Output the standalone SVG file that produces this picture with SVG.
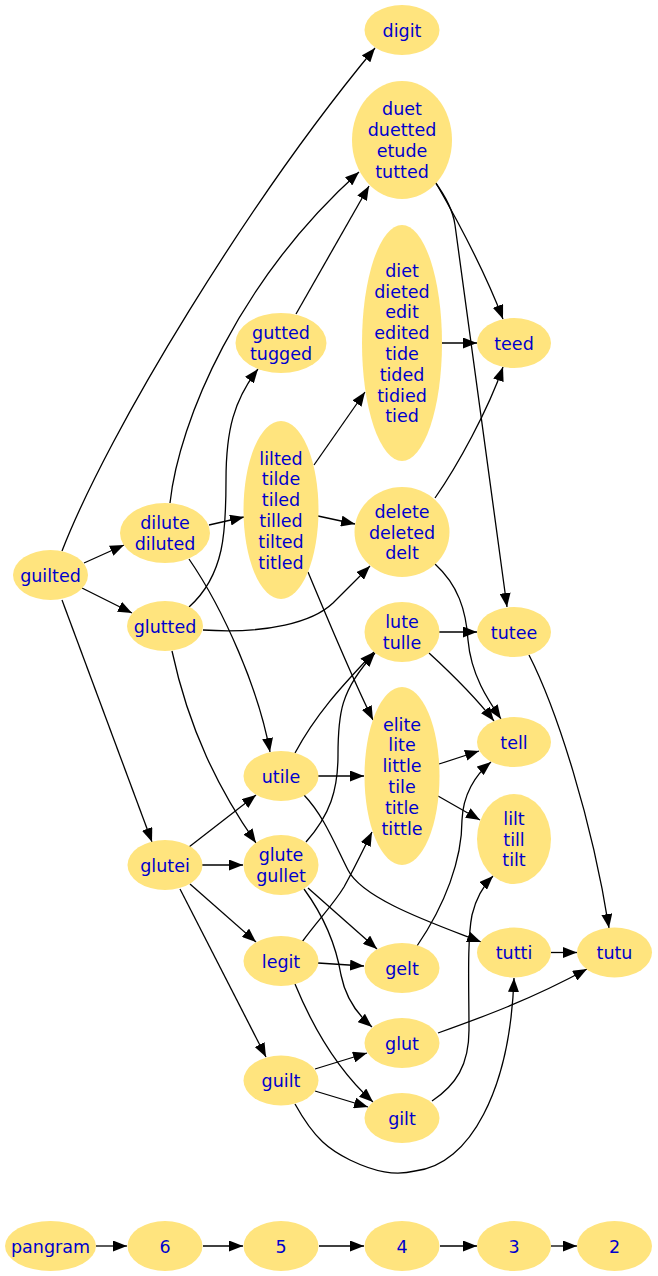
<svg xmlns="http://www.w3.org/2000/svg" width="658" height="1276" viewBox="0 0 658 1276">
<style>
.n ellipse{fill:#ffe47e;stroke:none}
.n text{font-family:"DejaVu Sans",Verdana,sans-serif;font-size:17.5px;fill:#0000cd;text-anchor:middle}
#edges path{fill:none;stroke:#000;stroke-width:1.3;marker-end:url(#ah)}
</style>
<defs>
<marker id="ah" markerUnits="userSpaceOnUse" markerWidth="14" markerHeight="11" refX="14" refY="5.5" orient="auto">
<path d="M0,0 L14,5.5 L0,11 z" fill="#000"/>
</marker>
</defs>
<rect width="658" height="1276" fill="#fff"/>
<g id="edges">
<path d="M62,551 C109,430 249,200 375,48"/>
<path d="M84,563 L124,545"/>
<path d="M82,588 L132,613"/>
<path d="M62,600 L152,842"/>
<path d="M170,503 C179,420 239,280 359,172"/>
<path d="M209,525 L244,517"/>
<path d="M189,559 C224,610 259,690 270,752"/>
<path d="M189,607 C225,575 226,530 226,480 C226,430 234,400 258,369"/>
<path d="M203,630 C268,634 313,622 333,603 C348,588 358,578 370,566"/>
<path d="M172,651 C189,730 219,790 256,843"/>
<path d="M296,314 L369,186"/>
<path d="M436,183 C463,230 488,280 503,319"/>
<path d="M435,182 C446,197 453,210 455,225 L507,607"/>
<path d="M442,343 L477,343"/>
<path d="M314,465 L365,392"/>
<path d="M318,516 L355,524"/>
<path d="M308,572 C328,620 353,680 373,720"/>
<path d="M435,498 C458,465 488,410 503,367"/>
<path d="M435,564 C458,585 466,610 468,640 C471,675 488,700 501,719"/>
<path d="M439,632 L477,632"/>
<path d="M429,653 C453,675 476,698 494,721"/>
<path d="M295,753 C318,710 348,680 374,652"/>
<path d="M306,842 C330,815 338,790 338,755 C338,715 340,690 375,653"/>
<path d="M318,776 L364,776"/>
<path d="M304,795 C323,815 333,840 348,870 C363,900 438,925 481,942"/>
<path d="M439,764 L479,751"/>
<path d="M438,796 L480,820"/>
<path d="M529,655 C557,710 592,820 609,928"/>
<path d="M189,847 L256,795"/>
<path d="M202,865 L243,865"/>
<path d="M190,884 L256,942"/>
<path d="M180,889 L266,1057"/>
<path d="M308,888 L377,949"/>
<path d="M304,889 C323,915 336,945 341,975 C346,1000 358,1015 372,1027"/>
<path d="M302,942 C318,920 333,905 344,887 C356,865 363,850 372,832"/>
<path d="M318,963 L364,966"/>
<path d="M295,984 C316,1035 343,1075 373,1102"/>
<path d="M417,946 C445,905 462,860 462,820 C463,795 475,775 491,762"/>
<path d="M432,1101 C456,1085 469,1065 469,1030 C469,990 467,940 472,915 C476,898 484,885 493,876"/>
<path d="M315,1069 L367,1053"/>
<path d="M315,1091 L368,1107"/>
<path d="M295,1104 C315,1140 330,1150 350,1160 C375,1172 395,1176 415,1171 C470,1165 510,1090 514,978"/>
<path d="M438,1033 C480,1018 530,1000 587,969"/>
<path d="M551,952.5 L577,952.5"/>
<path d="M96,1246 L127,1246"/>
<path d="M203,1246 L243,1246"/>
<path d="M319,1246 L364,1246"/>
<path d="M440,1246 L477,1246"/>
<path d="M551,1246 L577,1246"/>
</g>
<g id="digit" class="n"><ellipse cx="402" cy="30" rx="37.5" ry="25"/><text x="402" y="36.5">digit</text></g>
<g id="duet" class="n"><ellipse cx="402" cy="140" rx="50" ry="59"/><text x="402" y="115.3">duet</text><text x="402" y="136.1">duetted</text><text x="402" y="156.9">etude</text><text x="402" y="177.7">tutted</text></g>
<g id="diet" class="n"><ellipse cx="402" cy="343" rx="40" ry="118"/><text x="402" y="276.7">diet</text><text x="402" y="297.5">dieted</text><text x="402" y="318.3">edit</text><text x="402" y="339.1">edited</text><text x="402" y="359.9">tide</text><text x="402" y="380.7">tided</text><text x="402" y="401.5">tidied</text><text x="402" y="422.3">tied</text></g>
<g id="gutted" class="n"><ellipse cx="281" cy="343" rx="45.5" ry="30"/><text x="281" y="339.1">gutted</text><text x="281" y="359.9">tugged</text></g>
<g id="teed" class="n"><ellipse cx="514" cy="343" rx="37" ry="25"/><text x="514" y="349.5">teed</text></g>
<g id="lilted" class="n"><ellipse cx="281" cy="510" rx="37.5" ry="89"/><text x="281" y="464.5">lilted</text><text x="281" y="485.3">tilde</text><text x="281" y="506.1">tiled</text><text x="281" y="526.9">tilled</text><text x="281" y="547.7">tilted</text><text x="281" y="568.5">titled</text></g>
<g id="delete" class="n"><ellipse cx="402" cy="532" rx="47.5" ry="45"/><text x="402" y="517.7">delete</text><text x="402" y="538.5">deleted</text><text x="402" y="559.3">delt</text></g>
<g id="dilute" class="n"><ellipse cx="165" cy="533" rx="45" ry="30"/><text x="165" y="529.1">dilute</text><text x="165" y="549.9">diluted</text></g>
<g id="guilted" class="n"><ellipse cx="50.5" cy="575" rx="37.5" ry="25"/><text x="50.5" y="581.5">guilted</text></g>
<g id="glutted" class="n"><ellipse cx="165" cy="626" rx="38" ry="25"/><text x="165" y="632.5">glutted</text></g>
<g id="lute" class="n"><ellipse cx="402" cy="632" rx="37.5" ry="30"/><text x="402" y="628.1">lute</text><text x="402" y="648.9">tulle</text></g>
<g id="tutee" class="n"><ellipse cx="514" cy="632" rx="37" ry="25"/><text x="514" y="638.5">tutee</text></g>
<g id="elite" class="n"><ellipse cx="402" cy="776" rx="37.5" ry="89"/><text x="402" y="730.5">elite</text><text x="402" y="751.3">lite</text><text x="402" y="772.1">little</text><text x="402" y="792.9">tile</text><text x="402" y="813.7">title</text><text x="402" y="834.5">tittle</text></g>
<g id="tell" class="n"><ellipse cx="514" cy="742" rx="37" ry="25"/><text x="514" y="748.5">tell</text></g>
<g id="utile" class="n"><ellipse cx="281" cy="776" rx="37.5" ry="25"/><text x="281" y="782.5">utile</text></g>
<g id="lilt" class="n"><ellipse cx="514" cy="839" rx="37" ry="45"/><text x="514" y="824.7">lilt</text><text x="514" y="845.5">till</text><text x="514" y="866.3">tilt</text></g>
<g id="glutei" class="n"><ellipse cx="165" cy="865" rx="37.5" ry="25"/><text x="165" y="871.5">glutei</text></g>
<g id="glute" class="n"><ellipse cx="281" cy="865" rx="37.5" ry="30"/><text x="281" y="861.1">glute</text><text x="281" y="881.9">gullet</text></g>
<g id="legit" class="n"><ellipse cx="281" cy="961" rx="37.5" ry="25"/><text x="281" y="967.5">legit</text></g>
<g id="gelt" class="n"><ellipse cx="402" cy="968" rx="37.5" ry="25"/><text x="402" y="974.5">gelt</text></g>
<g id="tutti" class="n"><ellipse cx="514" cy="952.5" rx="37" ry="25"/><text x="514" y="959">tutti</text></g>
<g id="tutu" class="n"><ellipse cx="614.5" cy="952.5" rx="37.5" ry="25"/><text x="614.5" y="959">tutu</text></g>
<g id="glut" class="n"><ellipse cx="402" cy="1043" rx="37.5" ry="25"/><text x="402" y="1049.5">glut</text></g>
<g id="guilt" class="n"><ellipse cx="281" cy="1080.5" rx="37.5" ry="25"/><text x="281" y="1087">guilt</text></g>
<g id="gilt" class="n"><ellipse cx="402" cy="1118" rx="37.5" ry="25"/><text x="402" y="1124.5">gilt</text></g>
<g id="pangram" class="n"><ellipse cx="50.5" cy="1246" rx="45.5" ry="25"/><text x="50.5" y="1252.5">pangram</text></g>
<g id="r6" class="n"><ellipse cx="165" cy="1246" rx="37.5" ry="25"/><text x="165" y="1252.5">6</text></g>
<g id="r5" class="n"><ellipse cx="281" cy="1246" rx="37.5" ry="25"/><text x="281" y="1252.5">5</text></g>
<g id="r4" class="n"><ellipse cx="402" cy="1246" rx="37.5" ry="25"/><text x="402" y="1252.5">4</text></g>
<g id="r3" class="n"><ellipse cx="514" cy="1246" rx="37" ry="25"/><text x="514" y="1252.5">3</text></g>
<g id="r2" class="n"><ellipse cx="614.5" cy="1246" rx="37.5" ry="25"/><text x="614.5" y="1252.5">2</text></g>
</svg>
